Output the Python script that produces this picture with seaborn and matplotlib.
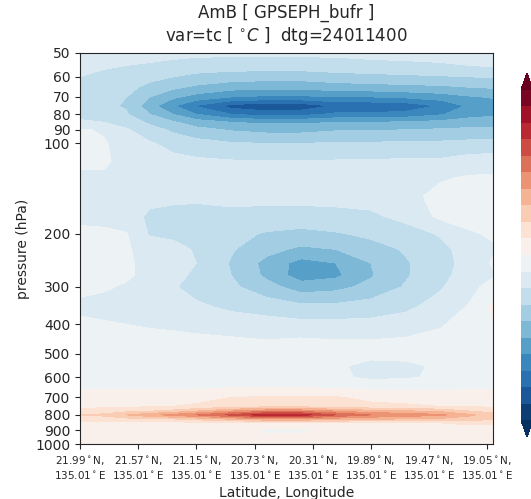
import numpy as np
import matplotlib
matplotlib.use("Agg")
import matplotlib.pyplot as plt
import seaborn as sns
from matplotlib.ticker import NullLocator

sns.set_style("ticks")
plt.rcParams['font.family'] = ['DejaVu Sans']

# pressure levels (hPa) and profile index along the track
pressure = [50, 55, 60, 65, 70, 75, 80, 85, 90, 100, 115, 130, 150, 175, 200, 225,
            250, 275, 300, 350, 400, 450, 500, 550, 600, 650, 700, 750, 775, 800,
            825, 850, 900, 1000]
track_idx = [0, 4, 8, 12, 16, 20, 26, 32, 38, 44, 50, 56, 62, 67, 71]

# AmB temperature (deg C), one row per pressure level
tc_amb = [
    [-0.17, -0.17, -0.17, -0.17, -0.18, -0.18, -0.18, -0.18, -0.18, -0.18, -0.17, -0.17, -0.17, -0.17, -0.17],
    [-0.18, -0.19, -0.20, -0.21, -0.22, -0.24, -0.25, -0.25, -0.25, -0.24, -0.23, -0.22, -0.21, -0.20, -0.19],
    [-0.20, -0.22, -0.24, -0.27, -0.30, -0.33, -0.35, -0.36, -0.36, -0.34, -0.33, -0.32, -0.31, -0.30, -0.29],
    [-0.23, -0.25, -0.27, -0.33, -0.38, -0.42, -0.46, -0.47, -0.47, -0.45, -0.44, -0.43, -0.42, -0.40, -0.39],
    [-0.25, -0.27, -0.30, -0.40, -0.48, -0.54, -0.60, -0.62, -0.62, -0.60, -0.60, -0.58, -0.55, -0.51, -0.49],
    [-0.25, -0.28, -0.31, -0.46, -0.59, -0.71, -0.84, -0.88, -0.87, -0.79, -0.78, -0.77, -0.69, -0.58, -0.56],
    [-0.22, -0.25, -0.29, -0.40, -0.50, -0.60, -0.70, -0.74, -0.73, -0.68, -0.68, -0.66, -0.61, -0.54, -0.52],
    [-0.19, -0.20, -0.24, -0.32, -0.39, -0.45, -0.50, -0.52, -0.52, -0.50, -0.50, -0.49, -0.47, -0.45, -0.44],
    [-0.09, -0.11, -0.19, -0.26, -0.32, -0.37, -0.41, -0.43, -0.43, -0.41, -0.41, -0.40, -0.39, -0.38, -0.38],
    [-0.08, -0.09, -0.14, -0.19, -0.23, -0.26, -0.29, -0.30, -0.30, -0.29, -0.29, -0.28, -0.28, -0.27, -0.27],
    [-0.09, -0.09, -0.12, -0.15, -0.17, -0.18, -0.19, -0.19, -0.19, -0.19, -0.19, -0.18, -0.18, -0.15, -0.14],
    [-0.11, -0.11, -0.13, -0.14, -0.15, -0.16, -0.16, -0.16, -0.16, -0.16, -0.16, -0.15, -0.11, -0.09, -0.09],
    [-0.14, -0.15, -0.15, -0.17, -0.18, -0.18, -0.17, -0.17, -0.17, -0.17, -0.16, -0.13, -0.07, -0.06, -0.06],
    [-0.12, -0.13, -0.15, -0.22, -0.23, -0.24, -0.23, -0.24, -0.24, -0.23, -0.22, -0.17, -0.08, -0.07, -0.06],
    [-0.08, -0.08, -0.095, -0.21, -0.22, -0.24, -0.27, -0.31, -0.33, -0.31, -0.28, -0.25, -0.19, -0.11, -0.09],
    [-0.07, -0.07, -0.09, -0.14, -0.17, -0.21, -0.29, -0.37, -0.42, -0.40, -0.34, -0.29, -0.23, -0.15, -0.11],
    [-0.07, -0.07, -0.09, -0.12, -0.16, -0.20, -0.31, -0.43, -0.54, -0.50, -0.40, -0.31, -0.24, -0.16, -0.09],
    [-0.07, -0.07, -0.09, -0.12, -0.17, -0.22, -0.30, -0.42, -0.55, -0.52, -0.41, -0.31, -0.23, -0.15, -0.11],
    [-0.08, -0.09, -0.11, -0.14, -0.19, -0.24, -0.28, -0.36, -0.45, -0.43, -0.37, -0.29, -0.21, -0.13, -0.06],
    [-0.12, -0.13, -0.14, -0.15, -0.16, -0.18, -0.22, -0.24, -0.27, -0.27, -0.25, -0.22, -0.16, -0.09, 0.02],
    [-0.08, -0.09, -0.10, -0.11, -0.12, -0.13, -0.14, -0.16, -0.17, -0.17, -0.17, -0.15, -0.11, -0.05, -0.01],
    [-0.05, -0.05, -0.06, -0.07, -0.07, -0.08, -0.09, -0.10, -0.09, -0.10, -0.10, -0.09, -0.07, -0.04, -0.03],
    [-0.05, -0.05, -0.05, -0.05, -0.05, -0.05, -0.06, -0.07, -0.07, -0.08, -0.08, -0.07, -0.06, -0.05, -0.04],
    [-0.05, -0.05, -0.05, -0.05, -0.05, -0.05, -0.05, -0.06, -0.06, -0.09, -0.12, -0.12, -0.085, -0.05, -0.04],
    [-0.04, -0.04, -0.04, -0.04, -0.04, -0.04, -0.04, -0.04, -0.04, -0.08, -0.12, -0.11, -0.085, -0.04, -0.03],
    [-0.01, -0.01, -0.01, -0.01, -0.01, -0.01, 0.00, 0.00, 0.00, -0.01, -0.02, -0.02, -0.02, -0.01, -0.01],
    [0.04, 0.04, 0.04, 0.05, 0.05, 0.06, 0.10, 0.11, 0.11, 0.11, 0.07, 0.05, 0.05, 0.05, 0.05],
    [0.08, 0.08, 0.09, 0.09, 0.10, 0.12, 0.16, 0.17, 0.17, 0.16, 0.13, 0.12, 0.10, 0.09, 0.09],
    [0.13, 0.14, 0.16, 0.18, 0.22, 0.28, 0.38, 0.45, 0.45, 0.38, 0.32, 0.30, 0.26, 0.19, 0.16],
    [0.20, 0.22, 0.30, 0.37, 0.43, 0.50, 0.62, 0.76, 0.74, 0.60, 0.50, 0.46, 0.42, 0.32, 0.24],
    [0.14, 0.15, 0.17, 0.18, 0.20, 0.24, 0.32, 0.40, 0.40, 0.35, 0.32, 0.30, 0.28, 0.25, 0.22],
    [0.07, 0.07, 0.07, 0.07, 0.07, 0.07, 0.07, 0.08, 0.08, 0.08, 0.08, 0.09, 0.10, 0.12, 0.12],
    [0.05, 0.05, 0.05, 0.05, 0.04, 0.04, 0.02, -0.01, -0.01, 0.02, 0.04, 0.04, 0.05, 0.05, 0.05],
    [0.04, 0.04, 0.04, 0.04, 0.04, 0.04, 0.04, 0.04, 0.04, 0.04, 0.04, 0.04, 0.04, 0.04, 0.04],
]

# tick labels along the track
tick_idx = [0, 10, 20, 30, 40, 50, 60, 70]
lat_labels = [21.99, 21.57, 21.15, 20.73, 20.31, 19.89, 19.47, 19.05]
lon_labels = [135.01, 135.01, 135.01, 135.01, 135.01, 135.01, 135.01, 135.01]
p_ticks = [50, 60, 70, 80, 90, 100, 200, 300, 400, 500, 600, 700, 800, 900, 1000]

levels = np.round(np.arange(-1.0, 1.001, 0.1), 2)
cmap = sns.color_palette("RdBu_r", as_cmap=True)

fig = plt.figure(figsize=(5.31, 4.99), dpi=100)
ax = fig.add_axes([0.1507, 0.1102, 0.7778, 0.7836])
cax = fig.add_axes([0.9812, 0.1242, 0.0226, 0.7295])

cf = ax.contourf(track_idx, pressure, np.array(tc_amb), levels=levels,
                 cmap=cmap, extend='both')

ax.set_yscale('log')
ax.set_ylim(1000, 50)
ax.set_xlim(0, 71)
ax.set_yticks(p_ticks, labels=[str(p) for p in p_ticks], fontsize=10)
ax.yaxis.set_minor_locator(NullLocator())
xlabels = [f"{la:.2f}$^\\circ$N,\n{lo:.2f}$^\\circ$E" for la, lo in zip(lat_labels, lon_labels)]
ax.set_xticks(tick_idx, labels=xlabels, fontsize=7.5)
ax.xaxis.set_minor_locator(NullLocator())

ax.set_ylabel("pressure (hPa)", fontsize=10)
ax.set_xlabel("Latitude, Longitude", fontsize=10)
ax.set_title("AmB [ GPSEPH_bufr ]\nvar=tc [ $^{\\circ}C$ ]  dtg=24011400", fontsize=12, pad=8.5)

# colorbar sits at the right edge; its labels fall outside the picture
cb = fig.colorbar(cf, cax=cax)
cb.outline.set_visible(False)
cb.set_ticks([])

fig.savefig("out.png", dpi=100)
